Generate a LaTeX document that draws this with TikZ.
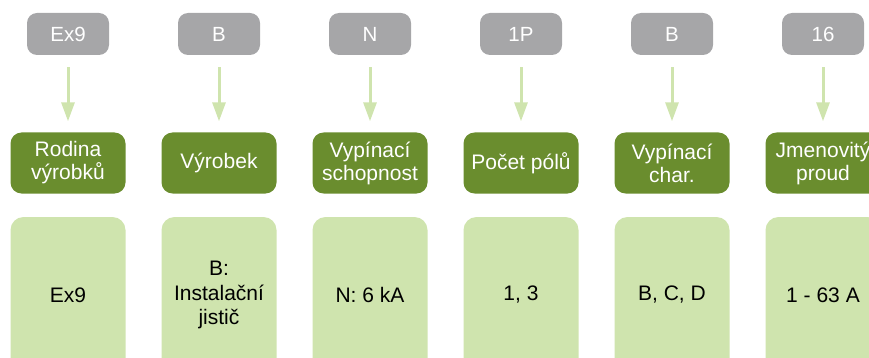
\documentclass[tikz,border=0pt]{standalone}
\usepackage{fontspec}
\setmainfont{Liberation Sans}
\usetikzlibrary{arrows.meta}
\definecolor{cgrey}{HTML}{A6A6A8}
\definecolor{cdark}{HTML}{6A8D2E}
\definecolor{clight}{HTML}{CFE4AE}
\tikzset{
  codebox/.style={fill=cgrey, rounded corners=10pt, minimum width=82pt, minimum height=42pt, inner sep=0pt, text=white, font=\fontsize{20.5pt}{24pt}\selectfont, align=center},
  catbox/.style={fill=cdark, rounded corners=11pt, minimum width=115pt, minimum height=61pt, inner sep=0pt, text=white, font=\fontsize{21pt}{23pt}\selectfont, align=center},
  valbox/.style={fill=clight, rounded corners=13pt, minimum width=115pt, minimum height=156pt, inner sep=0pt, text=black, font=\fontsize{21pt}{24.5pt}\selectfont, align=center},
  flow/.style={draw=clight, line width=3pt, -{Triangle[width=13pt,length=19pt]}, shorten <=12pt, shorten >=11pt}
}
\begin{document}
\begin{tikzpicture}[x=1pt,y=-1pt]
\useasboundingbox (0,0) rectangle (869,358);
\foreach \i/\code/\cat/\val in {
  1/Ex9/{Rodina\\výrobků}/Ex9,
  2/B/Výrobek/{B:\\Instalační\\jistič},
  3/N/{Vypínací\\schopnost}/{N: 6 kA},
  4/1P/{Počet pólů}/{1, 3},
  5/B/{Vypínací\\char.}/{B, C, D},
  6/16/{Jmenovitý\\proud}/{1 - 63 A}}{
  \pgfmathsetmacro{\cx}{68+151*(\i-1)}
  \node[codebox] (g\i) at (\cx,34) {\code};
  \node[catbox] (m\i) at (\cx,163) {\cat};
  \node[valbox] (v\i) at (\cx,295) {\val};
  \draw[flow] (g\i.south) -- (m\i.north);
}
\end{tikzpicture}
\end{document}
